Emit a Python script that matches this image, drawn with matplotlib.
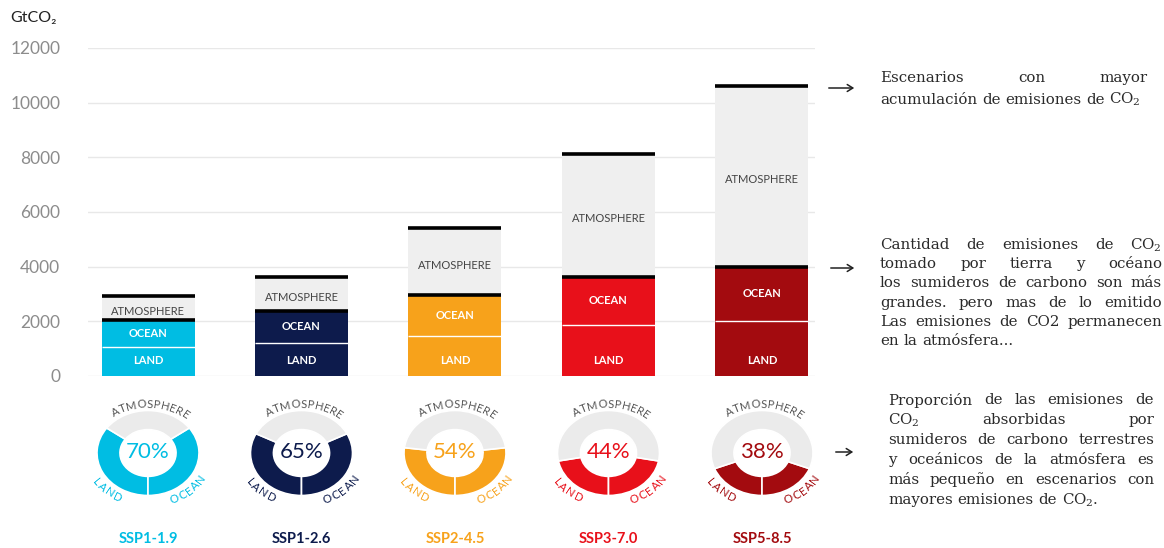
import numpy as np
import matplotlib
matplotlib.use("Agg")
import matplotlib.pyplot as plt

# ---------------- data ----------------
scenarios = ["SSP1-1.9", "SSP1-2.6", "SSP2-4.5", "SSP3-7.0", "SSP5-8.5"]
land = [1050, 1210, 1480, 1880, 2030]
ocean_top = [2050, 2390, 2950, 3610, 3990]      # land + ocean
total = [2930, 3630, 5400, 8130, 10610]           # cumulative emissions
sink_pct = [70, 65, 54, 44, 38]
colors = ["#00BDE3", "#0D1B4C", "#F7A21B", "#E8101A", "#A30B0F"]
yticks = [0, 2000, 4000, 6000, 8000, 10000, 12000]

ocean = [o - l for o, l in zip(ocean_top, land)]
atmos = [t - o for t, o in zip(total, ocean_top)]

W, H = 1164, 548
fig = plt.figure(figsize=(W / 100, H / 100), dpi=100)
fig.patch.set_facecolor("white")
plt.rcParams["mathtext.fontset"] = "dejavuserif"
renderer = fig.canvas.get_renderer()

def fx(x):
    return x / W

def fy(y):
    return 1 - y / H

# ---------------- main bar axes ----------------
ax_l, ax_r, ax_t, ax_b = 88, 815, 48, 376
ax = fig.add_axes([fx(ax_l), fy(ax_b), (ax_r - ax_l) / W, (ax_b - ax_t) / H])
xs = np.arange(len(scenarios))
spacing = 153.5
x0 = 148
ax.set_xlim(-(x0 - ax_l) / spacing, (ax_r - ax_l - (x0 - ax_l)) / spacing)
ax.set_ylim(0, 12000)
bw = 93 / spacing

ax.bar(xs, land, width=bw, color=colors, zorder=2)
ax.bar(xs, ocean, width=bw, bottom=land, color=colors, zorder=2)
ax.bar(xs, atmos, width=bw, bottom=ocean_top, color="#EFEFEF", zorder=2)
ax.hlines(land, xs - bw / 2, xs + bw / 2, color="white", lw=1.0, zorder=3)
ax.hlines(ocean_top, xs - bw / 2, xs + bw / 2, color="black", lw=2.6, zorder=4)
ax.hlines(total, xs - bw / 2, xs + bw / 2, color="black", lw=2.6, zorder=4)

for i in range(len(scenarios)):
    ax.text(xs[i], 550, "LAND", ha="center", va="center", color="white",
            fontsize=8, fontweight="bold", family="Lato", zorder=5)
    ax.text(xs[i], (land[i] + ocean_top[i]) / 2, "OCEAN", ha="center", va="center",
            color="white", fontsize=8, fontweight="bold", family="Lato", zorder=5)
    ax.text(xs[i], (ocean_top[i] + total[i]) / 2 - 120, "ATMOSPHERE", ha="center",
            va="center", color="#444444", fontsize=8, family="Lato", zorder=5)

ax.set_yticks(yticks)
ax.set_yticklabels([str(v) for v in yticks])
ax.set_xticks([])
ax.grid(axis="y", color="#E8E8E8", lw=1.0, zorder=0)
for s in ax.spines.values():
    s.set_visible(False)
ax.tick_params(axis="y", length=0, pad=20, labelsize=12.5, labelcolor="#8C8C8C")
for lab in ax.get_yticklabels():
    lab.set_family("Lato")

fig.text(fx(10), fy(18), "GtCO₂", ha="left", va="center", fontsize=11.5,
         color="#222222", family=["Lato", "DejaVu Sans"])

# ---------------- donuts ----------------
rx, ry = 51.0, 42.5
dcy = 453
lim = 1.35

def char_w(ch, size):
    t = fig.text(0, 0, ch, fontsize=size, family="Lato")
    w = t.get_window_extent(renderer).width
    t.remove()
    return w

def curved(dax, text, center_deg, r, clockwise, color, size, track=1.0):
    widths = [char_w(c, size) + track for c in text]
    total_w = sum(widths)
    tc = np.deg2rad(center_deg)
    speed = r * np.sqrt((rx * np.sin(tc)) ** 2 + (ry * np.cos(tc)) ** 2)
    pos = -total_w / 2
    for ch, w in zip(text, widths):
        off = np.degrees((pos + w / 2) / speed)
        pos += w
        a = center_deg - off if clockwise else center_deg + off
        t = np.deg2rad(a)
        x, y = r * np.cos(t), r * np.sin(t)
        tx, ty = -rx * np.sin(t), ry * np.cos(t)
        if clockwise:
            tx, ty = -tx, -ty
        rot = np.degrees(np.arctan2(ty, tx))
        dax.text(x, y, ch, ha="center", va="center", rotation=rot,
                 rotation_mode="anchor", fontsize=size, color=color, family="Lato")

for i in range(len(scenarios)):
    cx = x0 + spacing * i
    wpx, hpx = 2 * lim * rx, 2 * lim * ry
    dax = fig.add_axes([fx(cx - wpx / 2), fy(dcy + hpx / 2), wpx / W, hpx / H])
    p = sink_pct[i]
    vals = [p / 2, p / 2, 100 - p]
    dax.pie(vals, colors=[colors[i], colors[i], "#EBEBEB"], startangle=270 - p * 1.8,
            counterclock=True, radius=1.0,
            wedgeprops=dict(width=0.45, edgecolor="white", linewidth=1.2))
    dax.set_aspect("auto")
    dax.set_xlim(-lim, lim)
    dax.set_ylim(-lim, lim)
    dax.axis("off")
    dax.text(0, 0.02, f"{p}%", ha="center", va="center", fontsize=16,
             color=colors[i], family="Lato")

    curved(dax, "ATMOSPHERE", 87, 1.15, True, "#555555", 8.2, 0.6)
    curved(dax, "LAND", 228, 1.21, False, colors[i], 8.2, 0.9)
    curved(dax, "OCEAN", 312, 1.21, False, colors[i], 8.2, 0.9)

    fig.text(fx(cx), fy(539), scenarios[i], ha="center", va="center", fontsize=10.5,
             fontweight="bold", color=colors[i], family="Lato")

# ---------------- right-hand annotations ----------------
TXT = "#2A2A2A"
FS = 10.8

def put_line(words, x_left, x_right, y, justify):
    objs = []
    for w in words:
        t = fig.text(fx(x_left), fy(y), w, ha="left", va="center", fontsize=FS,
                     color=TXT, family="DejaVu Serif")
        objs.append(t)
    widths = [o.get_window_extent(renderer).width for o in objs]
    if justify and len(words) > 1:
        gap = (x_right - x_left - sum(widths)) / (len(words) - 1)
    else:
        sp = fig.text(0, 0, "a a", fontsize=FS, family="DejaVu Serif")
        sp2 = fig.text(0, 0, "aa", fontsize=FS, family="DejaVu Serif")
        gap = sp.get_window_extent(renderer).width - sp2.get_window_extent(renderer).width
        sp.remove(); sp2.remove()
    x = x_left
    for o, wd in zip(objs, widths):
        o.set_x(fx(x))
        x += wd + gap

def block(lines, x_left, x_right, y0, dy):
    for k, (txt, just) in enumerate(lines):
        put_line(txt.split(" "), x_left, x_right, y0 + k * dy, just)

block([("Escenarios con mayor", True),
       ("acumulación de emisiones de CO$_2$", False)], 880, 1148, 78, 21.5)

block([("Cantidad de emisiones de CO$_2$", True),
       ("tomado por tierra y océano", True),
       ("los sumideros de carbono son más", True),
       ("grandes. pero mas de lo emitido", True),
       ("Las emisiones de CO2 permanecen", True),
       ("en la atmósfera...", False)], 880, 1162, 245, 19.2)

block([("Proporción de las emisiones de", True),
       ("CO$_2$ absorbidas por", True),
       ("sumideros de carbono terrestres", True),
       ("y oceánicos de la atmósfera es", True),
       ("más pequeño en escenarios con", True),
       ("mayores emisiones de CO$_2$.", False)], 888, 1154, 400, 20.0)

for (xa, xb, ya) in [(826, 857, 88), (828, 857, 268), (833, 856, 452)]:
    fig.add_artist(matplotlib.patches.FancyArrowPatch(
        (fx(xa), fy(ya)), (fx(xb), fy(ya)), transform=fig.transFigure,
        arrowstyle="->,head_length=4,head_width=2.5", color="#222222", lw=1.1))

fig.savefig("out.png", dpi=100, facecolor="white")
